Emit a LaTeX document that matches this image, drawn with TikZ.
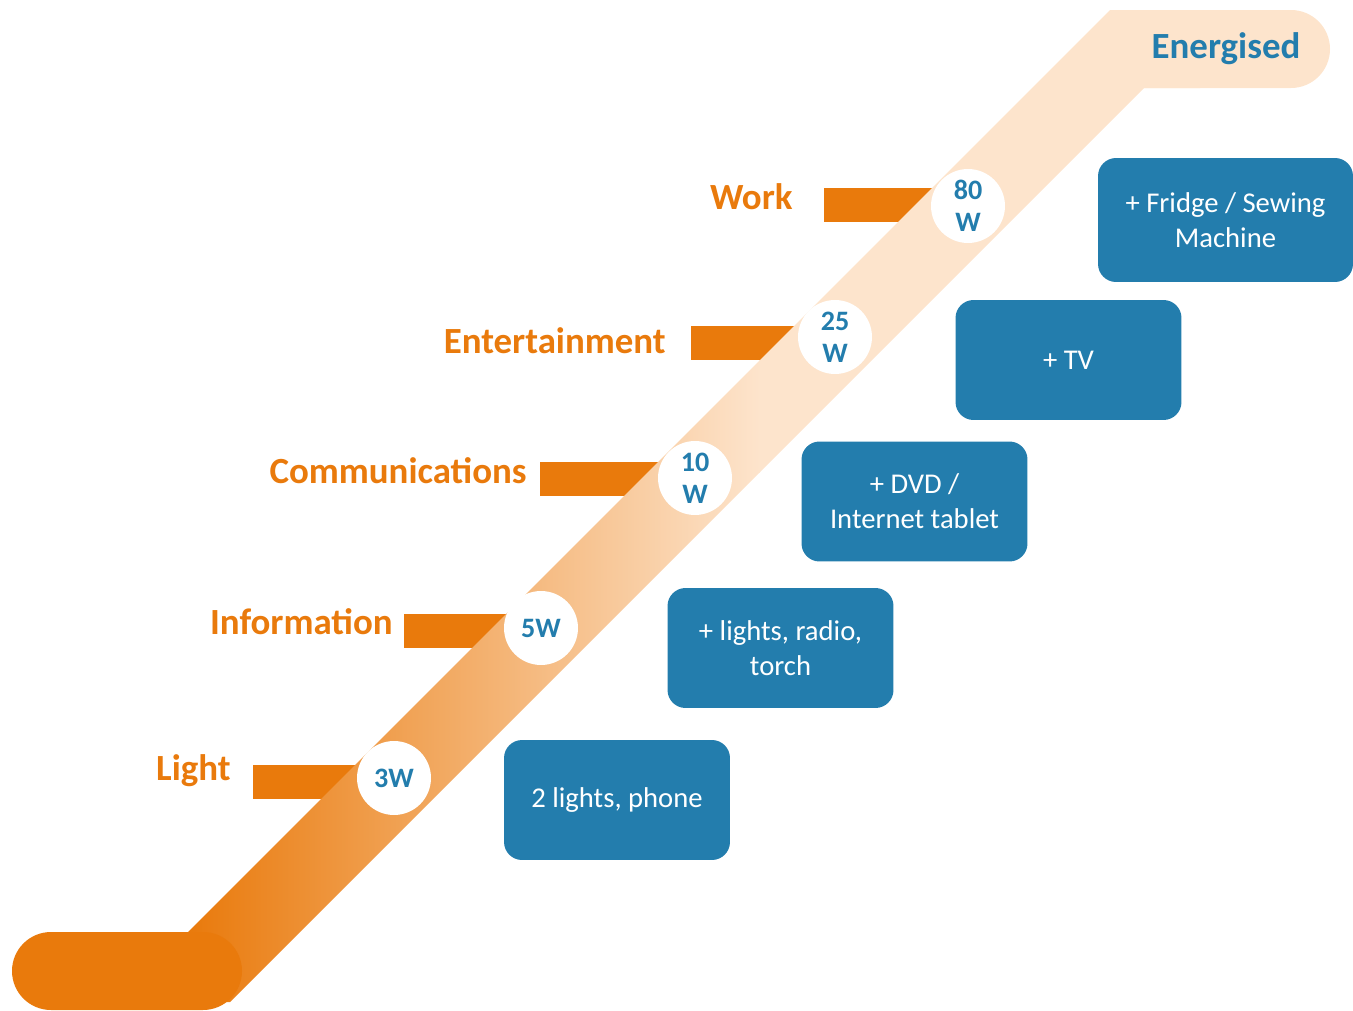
\documentclass[tikz,border=0pt]{standalone}
\usepackage{fontspec}
\setmainfont{Carlito}
\usetikzlibrary{positioning}

\definecolor{tangerine}{HTML}{E97A0C}
\definecolor{peach}{HTML}{FDE4CC}
\definecolor{steel}{HTML}{237DAD}

\begin{document}
\begin{tikzpicture}[x=0.02cm,y=-0.02cm,
    bar/.style={fill=tangerine,inner sep=0pt,minimum height=0.68cm,anchor=west},
    level/.style={text=tangerine,anchor=east,inner sep=0pt,font=\bfseries\fontsize{21}{24}\selectfont},
    watt/.style={circle,fill=white,inner sep=0pt,minimum size=1.48cm,align=center,
                 text=steel,font=\bfseries\fontsize{16}{18}\selectfont},
    device/.style={fill=steel,rounded corners=0.36cm,text=white,align=center,
                   minimum width=4.52cm,minimum height=2.4cm,
                   font=\fontsize{16.3}{20}\selectfont}]
    \useasboundingbox (0,0) rectangle (1353,1011);

    % bars behind the ramp
    \node[bar,minimum width=2.82cm] (lightbar) at (253,782) {};
    \node[bar,minimum width=2.74cm] (infobar)  at (404,631) {};
    \node[bar,minimum width=3.10cm] (commbar)  at (540,479) {};
    \node[bar,minimum width=2.88cm] (entbar)   at (691,343) {};
    \node[bar,minimum width=2.88cm] (workbar)  at (824,205) {};

    % the ramp
    \shade[left color=tangerine,right color=peach]
        (188,932) -- (760,360) -- (760,472) -- (230,1002) -- (188,1002) -- cycle;
    \fill[peach] (759,361) -- (1110,10) -- (1200,10) -- (1200,88) -- (1144,88) -- (759,473) -- cycle;
    \fill[tangerine,rounded corners=0.78cm] (12,932) rectangle (242,1010);
    \fill[peach,rounded corners=0.78cm] (1098,10) rectangle (1330,88);
    \node[text=steel,font=\bfseries\fontsize{21}{24}\selectfont] (top) at (1226,49) {Energised};

    % steps
    \node[watt] (w3)  at (394,778) {3W};
    \node[watt] (w5)  at (541,628) {5W};
    \node[watt] (w10) at (695,478) {10\\W};
    \node[watt] (w25) at (835,337) {25\\W};
    \node[watt] (w80) at (968,206) {80\\W};

    \node[level] (light) at (231,771) {Light};
    \node[level] (info)  at (393,622) {Information};
    \node[level] (comm)  at (527,471) {Communications};
    \node[level] (ent)   at (666,341) {Entertainment};
    \node[level] (work)  at (793,197) {Work};

    % appliances
    \node[device] (dev1) at (617,800)    {2 lights, phone};
    \node[device] (dev2) at (780.5,648)  {+ lights, radio,\\torch};
    \node[device] (dev3) at (914.5,501.5) {+ DVD /\\Internet tablet};
    \node[device] (dev4) at (1068.5,360) {+ TV};
    \node[device,minimum width=5.1cm,minimum height=2.48cm] (dev5) at (1225.5,220) {+ Fridge / Sewing\\Machine};
\end{tikzpicture}
\end{document}
